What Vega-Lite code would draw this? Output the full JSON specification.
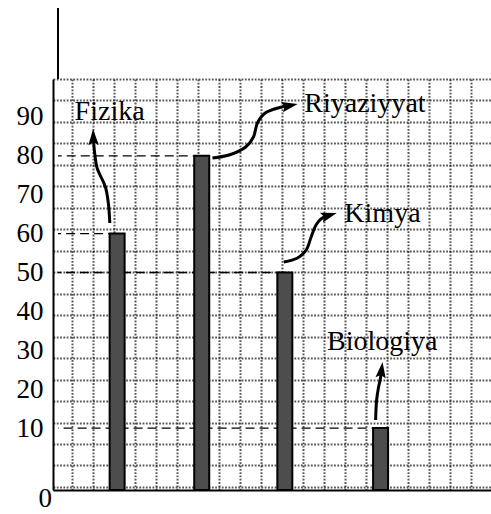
{
  "$schema": "https://vega.github.io/schema/vega-lite/v6.json",
  "width": 438,
  "height": 411,
  "autosize": {"type": "none"},
  "padding": {"left": 53, "top": 79, "right": 0, "bottom": 24},
  "background": "white",
  "config": {
    "view": {"stroke": null},
    "font": "Liberation Serif, Times New Roman, serif",
    "axisX": {
      "grid": true,
      "gridColor": "#111111",
      "gridWidth": 2,
      "gridDash": [1.8, 1.5],
      "gridOpacity": 0.7,
      "tickCount": 20,
      "labels": false,
      "ticks": false,
      "domain": true,
      "domainColor": "black",
      "domainWidth": 2,
      "title": null
    }
  },
  "datasets": {
    "bars": [
      {"subject": "Fizika", "score": 60, "col": 2.16},
      {"subject": "Riyaziyyat", "score": 80, "col": 6.18},
      {"subject": "Kimya", "score": 50, "col": 10.13},
      {"subject": "Biologiya", "score": 10, "col": 14.68}
    ],
    "arrows": [
      {"arrow": "Fizika", "i": 1, "ax": 1.812, "ay": 62.72},
      {"arrow": "Fizika", "i": 2, "ax": 1.742, "ay": 67.87},
      {"arrow": "Fizika", "i": 3, "ax": 1.603, "ay": 71.98},
      {"arrow": "Fizika", "i": 4, "ax": 1.394, "ay": 74.55},
      {"arrow": "Fizika", "i": 5, "ax": 1.208, "ay": 76.86},
      {"arrow": "Fizika", "i": 6, "ax": 1.092, "ay": 80.72},
      {"arrow": "Fizika", "i": 7, "ax": 1.036, "ay": 84.06},
      {"arrow": "Riyaziyyat", "i": 1, "ax": 6.689, "ay": 79.43},
      {"arrow": "Riyaziyyat", "i": 2, "ax": 7.478, "ay": 80.21},
      {"arrow": "Riyaziyyat", "i": 3, "ax": 8.268, "ay": 82.26},
      {"arrow": "Riyaziyyat", "i": 4, "ax": 8.639, "ay": 84.83},
      {"arrow": "Riyaziyyat", "i": 5, "ax": 8.825, "ay": 88.43},
      {"arrow": "Riyaziyyat", "i": 6, "ax": 9.197, "ay": 91.0},
      {"arrow": "Riyaziyyat", "i": 7, "ax": 9.893, "ay": 92.42},
      {"arrow": "Riyaziyyat", "i": 8, "ax": 10.302, "ay": 92.85},
      {"arrow": "Kimya", "i": 1, "ax": 10.079, "ay": 52.7},
      {"arrow": "Kimya", "i": 2, "ax": 10.729, "ay": 53.73},
      {"arrow": "Kimya", "i": 3, "ax": 11.147, "ay": 55.78},
      {"arrow": "Kimya", "i": 4, "ax": 11.38, "ay": 59.13},
      {"arrow": "Kimya", "i": 5, "ax": 11.612, "ay": 62.21},
      {"arrow": "Kimya", "i": 6, "ax": 11.844, "ay": 63.75},
      {"arrow": "Kimya", "i": 7, "ax": 12.169, "ay": 64.6},
      {"arrow": "Biologiya", "i": 1, "ax": 14.445, "ay": 12.08},
      {"arrow": "Biologiya", "i": 2, "ax": 14.492, "ay": 17.22},
      {"arrow": "Biologiya", "i": 3, "ax": 14.585, "ay": 20.57},
      {"arrow": "Biologiya", "i": 4, "ax": 14.677, "ay": 22.88},
      {"arrow": "Biologiya", "i": 5, "ax": 14.719, "ay": 24.6}
    ],
    "heads": [
      {"arrow": "Fizika", "ax": 1.031, "ay": 84.45, "ang": 358},
      {"arrow": "Riyaziyyat", "ax": 10.302, "ay": 92.85, "ang": 79},
      {"arrow": "Kimya", "ax": 12.169, "ay": 64.6, "ang": 73},
      {"arrow": "Biologiya", "ax": 14.719, "ay": 24.6, "ang": 7}
    ],
    "labels": [
      {"subject": "Fizika", "lx": 0.14, "ly": 89.2},
      {"subject": "Riyaziyyat", "lx": 11.055, "ly": 91.34},
      {"subject": "Kimya", "lx": 12.959, "ly": 63.06},
      {"subject": "Biologiya", "lx": 12.137, "ly": 30.08}
    ]
  },
  "layer": [
    {
      "data": {"name": "bars"},
      "mark": {"type": "rule", "color": "black", "strokeWidth": 1.3, "strokeDash": [9, 5]},
      "encoding": {
        "x": {
          "field": "col",
          "type": "quantitative",
          "scale": {"domain": [-0.65, 19.69], "nice": false, "zero": false},
          "axis": {"title": null}
        },
        "x2": {"datum": -0.65},
        "y": {
          "field": "score",
          "type": "quantitative",
          "scale": {"domain": [-5.91, 99.74], "nice": false, "zero": false},
          "axis": {
            "title": null,
            "orient": "left",
            "values": [99.74, 94.22, 88.7, 83.18, 77.66, 72.14, 66.63, 61.11, 55.59, 50.07, 44.55, 39.03, 33.51, 27.99, 22.48, 16.96, 11.44, 5.92, 0.4, -5.12],
            "grid": true,
            "gridColor": "#111111",
            "gridWidth": 2,
            "gridDash": [1.8, 1.5],
            "gridOpacity": 0.7,
            "labels": false,
            "ticks": false,
            "domain": false
          }
        }
      }
    },
    {
      "data": {"name": "bars"},
      "mark": {"type": "bar", "width": 15, "fill": "#4d4d4d", "stroke": "black", "strokeWidth": 2},
      "encoding": {
        "x": {"field": "col", "type": "quantitative"},
        "y": {
          "field": "score",
          "type": "quantitative",
          "axis": {
            "title": null,
            "orient": "left",
            "values": [10, 20, 30, 40, 50, 60, 70, 80, 90],
            "grid": false,
            "ticks": false,
            "labelFont": "Liberation Serif, Times New Roman, serif",
            "labelFontSize": 27,
            "labelColor": "black",
            "labelPadding": 10,
            "domain": true,
            "domainColor": "black",
            "domainWidth": 2
          }
        },
        "y2": {"datum": -5.91}
      }
    },
    {
      "data": {"values": [{"k": 1}]},
      "mark": {"type": "rule", "color": "black", "strokeWidth": 2},
      "encoding": {
        "x": {"datum": -0.65, "type": "quantitative"},
        "y": {"datum": 118.0, "type": "quantitative", "axis": null},
        "y2": {"datum": 99.74}
      }
    },
    {
      "data": {"values": [{"k": 1}]},
      "mark": {"type": "text", "font": "Liberation Serif, Times New Roman, serif", "fontSize": 27, "color": "black", "align": "center", "baseline": "bottom"},
      "encoding": {
        "x": {"datum": -1.25, "type": "quantitative"},
        "y": {"datum": -11.9, "type": "quantitative", "axis": null},
        "text": {"value": "0"}
      }
    },
    {
      "data": {"name": "arrows"},
      "mark": {"type": "line", "color": "black", "strokeWidth": 3, "interpolate": "catmull-rom"},
      "encoding": {
        "x": {"field": "ax", "type": "quantitative"},
        "y": {"field": "ay", "type": "quantitative", "axis": null},
        "detail": {"field": "arrow", "type": "nominal"},
        "order": {"field": "i", "type": "quantitative"}
      }
    },
    {
      "data": {"name": "heads"},
      "mark": {"type": "point", "shape": "M0,-1L0.55,0.7L0,0.4L-0.55,0.7Z", "filled": true, "color": "black", "opacity": 1, "size": 355},
      "encoding": {
        "x": {"field": "ax", "type": "quantitative"},
        "y": {"field": "ay", "type": "quantitative", "axis": null},
        "angle": {"field": "ang", "type": "quantitative", "scale": {"domain": [0, 360], "range": [0, 360]}}
      }
    },
    {
      "data": {"name": "labels"},
      "mark": {"type": "text", "font": "Liberation Serif, Times New Roman, serif", "fontSize": 28, "color": "black", "align": "left", "baseline": "alphabetic"},
      "encoding": {
        "x": {"field": "lx", "type": "quantitative"},
        "y": {"field": "ly", "type": "quantitative", "axis": null},
        "text": {"field": "subject", "type": "nominal"}
      }
    }
  ],
  "resolve": {"axis": {"y": "independent"}}
}
